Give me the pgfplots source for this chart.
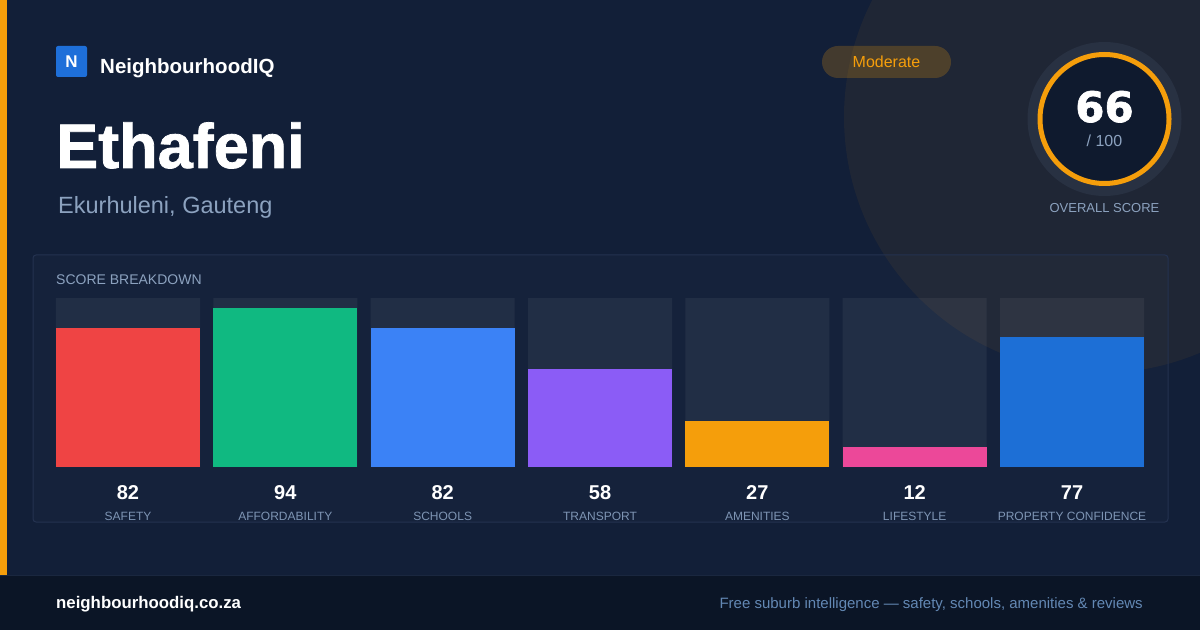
\documentclass[border=0pt]{standalone}
\usepackage{pgfplots}
\pgfplotsset{compat=1.18}
\usepackage{fontspec}
\setmainfont{Liberation Sans}
\newfontfamily\dvs{DejaVu Sans}[BoldFont={DejaVu Sans Bold},BoldFeatures={FakeBold=1.5}]
\newfontfamily\heavy{Liberation Sans}[BoldFeatures={FakeBold=1.2}]
\definecolor{bg}{HTML}{121F38}
\definecolor{footbg}{HTML}{0B1526}
\definecolor{accent}{HTML}{F59E0B}
\definecolor{panelline}{HTML}{243250}
\definecolor{subtxt}{HTML}{8CA2BF}
\definecolor{lbltxt}{HTML}{7E95B4}
\definecolor{foottxt}{HTML}{6388B4}
\definecolor{cSafety}{HTML}{EF4444}
\definecolor{cAfford}{HTML}{10B981}
\definecolor{cSchools}{HTML}{3B82F6}
\definecolor{cTransport}{HTML}{8B5CF6}
\definecolor{cAmen}{HTML}{F59E0B}
\definecolor{cLife}{HTML}{EC4899}
\definecolor{cProp}{HTML}{1D6FD6}
\definecolor{logoblue}{HTML}{1E6FD9}
\definecolor{halo}{HTML}{283142}
\definecolor{inner}{HTML}{0F1A2E}
\begin{document}
\begin{tikzpicture}[x=1pt,y=1pt]
\path[use as bounding box] (0,0) rectangle (1200,630);
\fill[bg] (0,0) rectangle (1200,630);
\begin{scope}
\clip (0,55) rectangle (1200,630);
\fill[accent,opacity=0.06] (1100,513) circle (256);
\end{scope}
% footer
\fill[footbg] (0,0) rectangle (1200,55);
\draw[panelline!60!footbg,line width=1pt] (0,55) -- (1200,55);
\fill[accent] (0,55) rectangle (7,630);
% panel
\filldraw[fill=white,fill opacity=0.015,draw=panelline,line width=1pt,rounded corners=3pt] (33,108) rectangle (1168,375);
\node[anchor=base west,inner sep=0,text=subtxt,font=\fontsize{14}{16}\selectfont] at (56,345) {SCORE BREAKDOWN};
% logo
\fill[logoblue,rounded corners=2pt] (56,553) rectangle (87,584);
\node[text=white,font=\fontsize{17}{19}\selectfont\bfseries] at (71.5,568.5) {N};
\node[anchor=base west,inner sep=0,text=white,font=\fontsize{20.5}{23}\selectfont\bfseries] at (100,556) {NeighbourhoodIQ};
\node[anchor=base west,inner sep=0,text=white,font=\fontsize{63}{70}\selectfont\heavy\bfseries] at (56,462) {Ethafeni};
\node[anchor=base west,inner sep=0,text=subtxt,font=\fontsize{23.5}{27}\selectfont] at (58,416) {Ekurhuleni, Gauteng};
% badge
\fill[accent,opacity=0.22,rounded corners=16pt] (822,552) rectangle (951,584);
\node[text=accent,font=\fontsize{16}{19}\selectfont] at (886.5,568) {Moderate};
% score
\fill[halo] (1104.5,511) circle (77);
\fill[inner] (1104.5,511) circle (64);
\draw[accent,line width=5pt] (1104.5,511) circle (64.5);
\node[anchor=base,inner sep=0,text=white,font=\fontsize{42}{48}\selectfont\dvs\bfseries] at (1104.5,508) {66};
\node[anchor=base,inner sep=0,text=subtxt,font=\fontsize{16}{19}\selectfont] at (1104.5,483) {/ 100};
\node[anchor=base,inner sep=0,text=subtxt,font=\fontsize{13}{16}\selectfont] at (1104.5,417) {OVERALL SCORE};
% footer text
\node[anchor=base west,inner sep=0,text=white,font=\fontsize{16.8}{19}\selectfont\bfseries] at (56,22) {neighbourhoodiq.co.za};
\node[anchor=base east,inner sep=0,text=foottxt,font=\fontsize{15}{18}\selectfont] at (1143,22) {Free suburb intelligence — safety, schools, amenities \& reviews};
% bars
\begin{axis}[at={(49.333pt,163pt)},anchor=south west,scale only axis,
  width=1101.333pt,height=169pt,
  xmin=-0.5,xmax=6.5,ymin=0,ymax=100,
  axis line style={draw=none},ytick=\empty,
  major tick length=0pt,
  ybar,bar width=144pt,clip=false,
  xtick={0,1,2,3,4,5,6},
  xticklabels={SAFETY,AFFORDABILITY,SCHOOLS,TRANSPORT,AMENITIES,LIFESTYLE,PROPERTY CONFIDENCE},
  xticklabel style={anchor=base,inner sep=0pt,text=lbltxt,font=\fontsize{12}{14}\selectfont,yshift=-53pt},
  extra x ticks={0,1,2,3,4,5,6},
  extra x tick labels={82,94,82,58,27,12,77},
  extra x tick style={xticklabel style={text=white,font=\fontsize{20}{22}\selectfont\bfseries,yshift=21pt}},
]
\addplot[fill=white,fill opacity=0.055,draw=none,bar shift=0pt] coordinates {(0,100) (1,100) (2,100) (3,100) (4,100) (5,100) (6,100)};
\addplot[fill=cSafety,draw=none,bar shift=0pt] coordinates {(0,82)};
\addplot[fill=cAfford,draw=none,bar shift=0pt] coordinates {(1,94)};
\addplot[fill=cSchools,draw=none,bar shift=0pt] coordinates {(2,82)};
\addplot[fill=cTransport,draw=none,bar shift=0pt] coordinates {(3,58)};
\addplot[fill=cAmen,draw=none,bar shift=0pt] coordinates {(4,27)};
\addplot[fill=cLife,draw=none,bar shift=0pt] coordinates {(5,12)};
\addplot[fill=cProp,draw=none,bar shift=0pt] coordinates {(6,77)};
\end{axis}
\end{tikzpicture}
\end{document}
